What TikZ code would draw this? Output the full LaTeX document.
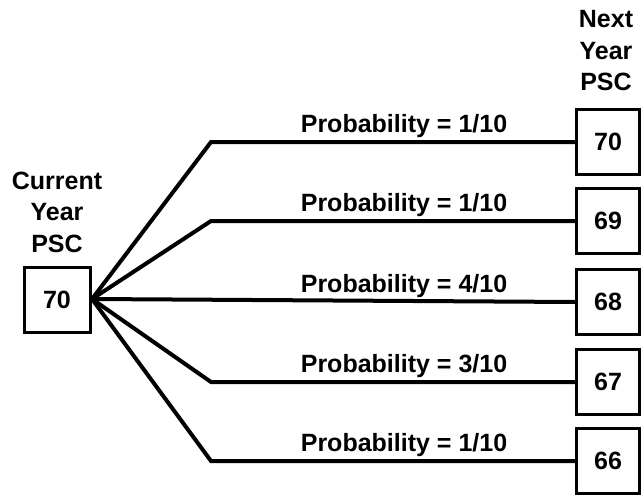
\documentclass[tikz,border=0pt]{standalone}
\usepackage{fontspec}
\setmainfont{Liberation Sans}
\begin{document}
\begin{tikzpicture}[x=1pt,y=-1pt,
  every node/.style={font=\fontsize{25}{31.5}\selectfont\bfseries},
  valbox/.style={draw,line width=3pt,minimum width=66pt,minimum height=65pt,inner sep=0pt},
  branch/.style={line width=4pt,line join=miter},
  caption/.style={align=center,inner sep=0pt},
  problab/.style={inner sep=0pt,anchor=base}]
\useasboundingbox (0,0) rectangle (642,495);
% current
\node[valbox] (cur) at (57,300) {70};
\node[caption] (curlab) at (57,212) {Current\\Year\\PSC};
% next
\node[caption] (nextlab) at (606,51) {Next\\Year\\PSC};
\node[valbox,minimum width=63pt] (n1) at (608,142) {70};
\node[valbox,minimum width=63pt] (n2) at (608,221) {69};
\node[valbox,minimum width=63pt] (n3) at (608,302) {68};
\node[valbox,minimum width=63pt] (n4) at (608,382) {67};
\node[valbox,minimum width=63pt] (n5) at (608,461) {66};
% kinks
\coordinate (o) at (92,299);
\coordinate (k1) at (211,142);
\coordinate (k2) at (211,221);
\coordinate (k4) at (211,382);
\coordinate (k5) at (211,461);
\draw[branch] (o) -- (k1) -- (n1.west);
\draw[branch] (o) -- (k2) -- (n2.west);
\draw[branch] (o) -- (n3.west);
\draw[branch] (o) -- (k4) -- (n4.west);
\draw[branch] (o) -- (k5) -- (n5.west);
% labels
\node[problab] (p1) at (404,132) {Probability = 1/10};
\node[problab] (p2) at (404,211) {Probability = 1/10};
\node[problab] (p3) at (404,292) {Probability = 4/10};
\node[problab] (p4) at (404,372) {Probability = 3/10};
\node[problab] (p5) at (404,451) {Probability = 1/10};
\end{tikzpicture}
\end{document}
